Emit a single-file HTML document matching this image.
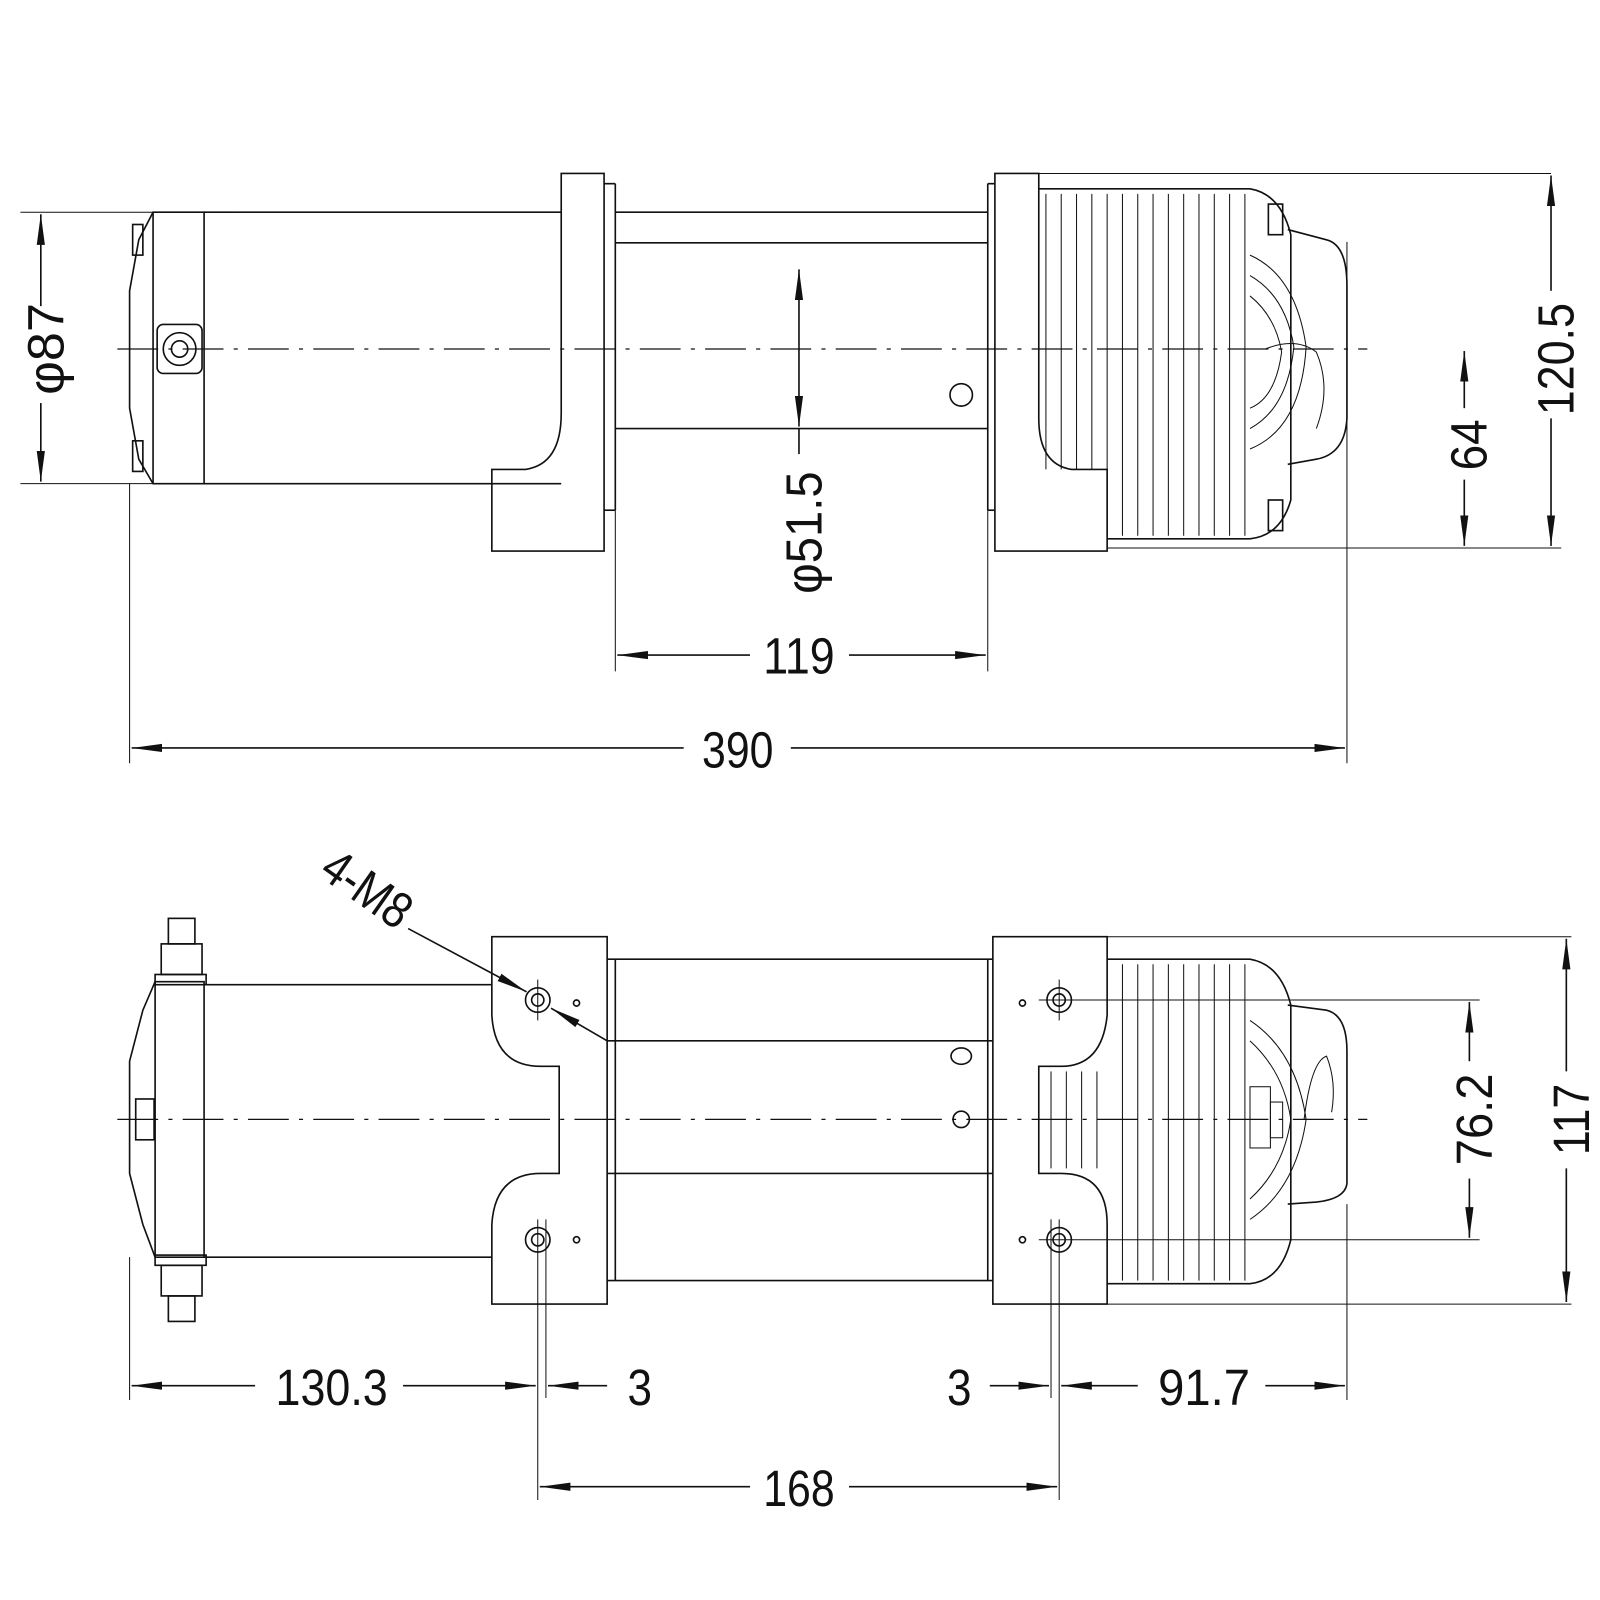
<!DOCTYPE html>
<html><head><meta charset="utf-8"><style>
html,body{margin:0;padding:0;background:#fff;}
svg{display:block;}
text{font-family:"Liberation Sans",sans-serif;font-size:50px;fill:#111;}
</style></head><body>
<svg width="1600" height="1600" viewBox="0 0 1568 1568" xmlns="http://www.w3.org/2000/svg">
<defs>
<marker id="a" markerWidth="30" markerHeight="10" refX="30" refY="5" orient="auto" markerUnits="userSpaceOnUse"><path d="M0,1 L30,5 L0,9 Z" fill="#111"/></marker>
</defs>
<g stroke="#111" stroke-width="1.6" fill="none">
<line x1="115" y1="342" x2="1340" y2="342" stroke-dasharray="40,10,4,10" stroke-width="1.2"/>
<path d="M150,208 L200,208 L200,474 L150,474 L136,450 L127,400 L127,285 L136,235 Z"/>
<line x1="150" y1="208" x2="150" y2="474"/>
<rect x="130" y="220" width="10" height="30"/><rect x="130" y="432" width="10" height="30"/>
<rect x="154" y="318" width="44" height="48" rx="6"/>
<circle cx="176" cy="342" r="16"/><circle cx="176" cy="342" r="8"/>
<line x1="200" y1="208" x2="550" y2="208"/><line x1="200" y1="474" x2="550" y2="474"/>
<line x1="20" y1="208" x2="230" y2="208" stroke-width="1"/><line x1="20" y1="474" x2="230" y2="474" stroke-width="1"/>
<path d="M550,170 L592,170 L592,540 L482,540 L482,460 L515,460 Q550,455 550,405 Z"/>
<line x1="592" y1="180" x2="603" y2="180"/><line x1="603" y1="180" x2="603" y2="500"/><line x1="592" y1="500" x2="603" y2="500"/>
<line x1="603" y1="208" x2="968" y2="208"/><line x1="603" y1="238" x2="968" y2="238"/>
<line x1="603" y1="420" x2="968" y2="420"/>
<circle cx="942" cy="387" r="11"/>
<path d="M975,170 L1018,170 L1018,410 Q1018,455 1050,460 L1085,460 L1085,540 L975,540 Z"/>
<line x1="968" y1="180" x2="975" y2="180"/><line x1="968" y1="180" x2="968" y2="500"/><line x1="968" y1="500" x2="975" y2="500"/>
<line x1="975" y1="170" x2="1520" y2="170" stroke-width="1"/>
<path d="M1018,185 L1225,185 Q1255,190 1265,230 L1265,490 Q1255,525 1225,528 L1085,528"/>
<g stroke-width="1">
<line x1="1025" y1="190" x2="1025" y2="460"/><line x1="1040" y1="190" x2="1040" y2="460"/>
<line x1="1055" y1="190" x2="1055" y2="460"/><line x1="1070" y1="190" x2="1070" y2="460"/>
<line x1="1085" y1="190" x2="1085" y2="525"/><line x1="1100" y1="190" x2="1100" y2="525"/>
<line x1="1115" y1="190" x2="1115" y2="525"/><line x1="1130" y1="190" x2="1130" y2="525"/>
<line x1="1145" y1="190" x2="1145" y2="525"/><line x1="1160" y1="190" x2="1160" y2="525"/>
<line x1="1175" y1="190" x2="1175" y2="525"/><line x1="1190" y1="190" x2="1190" y2="525"/>
<line x1="1205" y1="190" x2="1205" y2="525"/><line x1="1220" y1="190" x2="1220" y2="525"/>
<path d="M1225,250 Q1270,270 1280,340 Q1275,420 1225,440"/>
<path d="M1225,270 Q1260,290 1268,340 Q1262,400 1225,420"/>
<path d="M1225,290 Q1250,310 1256,345 Q1250,390 1225,400"/>
<path d="M1240,342 Q1270,330 1290,345 Q1305,380 1290,420"/>
</g>
<rect x="1243" y="200" width="14" height="30"/><rect x="1243" y="490" width="14" height="30"/>
<path d="M1262,225 L1300,235 Q1320,240 1320,280 L1320,410 Q1318,445 1290,450 L1262,455"/>
<line x1="127" y1="474" x2="127" y2="748" stroke-width="1"/>
<line x1="1320" y1="237" x2="1320" y2="748" stroke-width="1"/>
<line x1="603" y1="500" x2="603" y2="658" stroke-width="1"/>
<line x1="968" y1="500" x2="968" y2="658" stroke-width="1"/>
<line x1="1085" y1="537" x2="1530" y2="537" stroke-width="1"/>
<line x1="40" y1="300" x2="40" y2="210" marker-end="url(#a)"/><line x1="40" y1="395" x2="40" y2="472" marker-end="url(#a)"/>
<line x1="1520" y1="285" x2="1520" y2="172" marker-end="url(#a)"/><line x1="1520" y1="410" x2="1520" y2="535" marker-end="url(#a)"/>
<line x1="1435" y1="400" x2="1435" y2="344" marker-end="url(#a)"/><line x1="1435" y1="470" x2="1435" y2="535" marker-end="url(#a)"/>
<line x1="783" y1="340" x2="783" y2="264" marker-end="url(#a)"/><line x1="783" y1="340" x2="783" y2="418" marker-end="url(#a)"/>
<line x1="783" y1="420" x2="783" y2="445"/>
<line x1="735" y1="642" x2="605" y2="642" marker-end="url(#a)"/><line x1="832" y1="642" x2="966" y2="642" marker-end="url(#a)"/>
<line x1="670" y1="733" x2="129" y2="733" marker-end="url(#a)"/><line x1="775" y1="733" x2="1318" y2="733" marker-end="url(#a)"/>

<line x1="115" y1="1097" x2="1340" y2="1097" stroke-dasharray="40,10,4,10" stroke-width="1.2"/>
<path d="M152,962 L200,962 L200,1232 L152,1232 L140,1200 L127,1150 L127,1040 L140,990 Z"/>
<line x1="152" y1="962" x2="152" y2="1232"/>
<rect x="133" y="1077" width="18" height="40"/>
<rect x="152" y="955" width="50" height="10"/><rect x="152" y="1230" width="50" height="10"/>
<rect x="158" y="925" width="40" height="30"/><rect x="165" y="900" width="26" height="25"/>
<rect x="158" y="1240" width="40" height="30"/><rect x="165" y="1270" width="26" height="25"/>
<line x1="200" y1="965" x2="482" y2="965"/><line x1="200" y1="1232" x2="482" y2="1232"/>
<path d="M482,918 L595,918 L595,1278 L482,1278 L482,1200 Q485,1150 530,1150 L548,1150 L548,1045 L530,1045 Q485,1045 482,995 Z"/>
<line x1="595" y1="940" x2="973" y2="940"/><line x1="595" y1="1020" x2="973" y2="1020"/>
<line x1="595" y1="1150" x2="973" y2="1150"/><line x1="595" y1="1255" x2="973" y2="1255"/>
<line x1="603" y1="940" x2="603" y2="1255"/><line x1="968" y1="940" x2="968" y2="1255"/>
<ellipse cx="942" cy="1035" rx="10" ry="8"/><circle cx="942" cy="1097" r="8"/>
<path d="M973,918 L1085,918 L1085,995 Q1080,1045 1040,1045 L1018,1045 L1018,1150 L1040,1150 Q1085,1150 1085,1200 L1085,1278 L973,1278 Z"/>
<line x1="1085" y1="918" x2="1540" y2="918" stroke-width="1"/>
<line x1="1085" y1="1278" x2="1540" y2="1278" stroke-width="1"/>
<path d="M1085,940 L1225,940 Q1255,945 1265,985 L1265,1215 Q1255,1255 1225,1258 L1085,1258"/>
<g stroke-width="1">
<line x1="1100" y1="945" x2="1100" y2="1255"/><line x1="1115" y1="945" x2="1115" y2="1255"/>
<line x1="1130" y1="945" x2="1130" y2="1255"/><line x1="1145" y1="945" x2="1145" y2="1255"/>
<line x1="1160" y1="945" x2="1160" y2="1255"/><line x1="1175" y1="945" x2="1175" y2="1255"/>
<line x1="1190" y1="945" x2="1190" y2="1255"/><line x1="1205" y1="945" x2="1205" y2="1255"/>
<line x1="1220" y1="945" x2="1220" y2="1255"/>
<line x1="1030" y1="1050" x2="1030" y2="1145"/><line x1="1045" y1="1050" x2="1045" y2="1145"/>
<line x1="1060" y1="1050" x2="1060" y2="1145"/><line x1="1075" y1="1050" x2="1075" y2="1145"/>
<path d="M1225,1000 Q1270,1030 1280,1097 Q1270,1165 1225,1195"/>
<path d="M1225,1020 Q1258,1050 1265,1097 Q1258,1145 1225,1175"/>
<rect x="1225" y="1065" width="20" height="60"/><rect x="1245" y="1080" width="12" height="35"/>
<path d="M1278,1097 Q1285,1040 1300,1035 Q1310,1060 1305,1090"/>
</g>
<path d="M1262,985 L1300,990 Q1320,995 1320,1030 L1320,1160 Q1318,1175 1290,1178 L1262,1180"/>
<circle cx="527" cy="980" r="12"/><circle cx="527" cy="980" r="6"/>
<circle cx="527" cy="1215" r="12"/><circle cx="527" cy="1215" r="6"/>
<circle cx="1038" cy="980" r="12"/><circle cx="1038" cy="980" r="6"/>
<circle cx="1038" cy="1215" r="12"/><circle cx="1038" cy="1215" r="6"/>
<circle cx="565" cy="983" r="3"/><circle cx="565" cy="1215" r="3"/>
<circle cx="1002" cy="983" r="3"/><circle cx="1002" cy="1215" r="3"/>
<g stroke-width="1">
<line x1="527" y1="960" x2="527" y2="1000"/>
<line x1="1038" y1="960" x2="1038" y2="1000"/>
<line x1="1018" y1="980" x2="1450" y2="980"/>
<line x1="1018" y1="1215" x2="1450" y2="1215"/>
<line x1="527" y1="1195" x2="527" y2="1470"/><line x1="535" y1="1195" x2="535" y2="1370"/>
<line x1="1038" y1="1195" x2="1038" y2="1470"/><line x1="1030" y1="1195" x2="1030" y2="1370"/>
<line x1="127" y1="1232" x2="127" y2="1372"/><line x1="1320" y1="1180" x2="1320" y2="1372"/>
</g>
<line x1="400" y1="910" x2="516" y2="972" marker-end="url(#a)"/>
<line x1="595" y1="1020" x2="540" y2="988" marker-end="url(#a)"/>
<line x1="1535" y1="1050" x2="1535" y2="920" marker-end="url(#a)"/><line x1="1535" y1="1145" x2="1535" y2="1276" marker-end="url(#a)"/>
<line x1="1440" y1="1040" x2="1440" y2="982" marker-end="url(#a)"/><line x1="1440" y1="1155" x2="1440" y2="1213" marker-end="url(#a)"/>
<line x1="250" y1="1358" x2="129" y2="1358" marker-end="url(#a)"/><line x1="395" y1="1358" x2="525" y2="1358" marker-end="url(#a)"/>
<line x1="595" y1="1358" x2="537" y2="1358" marker-end="url(#a)"/>
<line x1="970" y1="1358" x2="1028" y2="1358" marker-end="url(#a)"/>
<line x1="1115" y1="1358" x2="1040" y2="1358" marker-end="url(#a)"/><line x1="1240" y1="1358" x2="1318" y2="1358" marker-end="url(#a)"/>
<line x1="735" y1="1457" x2="529" y2="1457" marker-end="url(#a)"/><line x1="832" y1="1457" x2="1036" y2="1457" marker-end="url(#a)"/>
</g>
<text transform="translate(62,342) rotate(-90)" text-anchor="middle" textLength="90" lengthAdjust="spacingAndGlyphs">φ87</text>
<text transform="translate(1542,352) rotate(-90)" text-anchor="middle" textLength="110" lengthAdjust="spacingAndGlyphs">120.5</text>
<text transform="translate(1457,436) rotate(-90)" text-anchor="middle" textLength="50" lengthAdjust="spacingAndGlyphs">64</text>
<text transform="translate(805,522) rotate(-90)" text-anchor="middle" textLength="120" lengthAdjust="spacingAndGlyphs">φ51.5</text>
<text x="783" y="660" text-anchor="middle" textLength="70" lengthAdjust="spacingAndGlyphs">119</text>
<text x="723" y="752" text-anchor="middle" textLength="70" lengthAdjust="spacingAndGlyphs">390</text>
<text transform="translate(350,885) rotate(35)" text-anchor="middle" textLength="95" lengthAdjust="spacingAndGlyphs">4-M8</text>
<text transform="translate(1557,1097) rotate(-90)" text-anchor="middle" textLength="70" lengthAdjust="spacingAndGlyphs">117</text>
<text transform="translate(1462,1097) rotate(-90)" text-anchor="middle" textLength="90" lengthAdjust="spacingAndGlyphs">76.2</text>
<text x="325" y="1377" text-anchor="middle" textLength="110" lengthAdjust="spacingAndGlyphs">130.3</text>
<text x="627" y="1377" text-anchor="middle" textLength="24" lengthAdjust="spacingAndGlyphs">3</text>
<text x="940" y="1377" text-anchor="middle" textLength="24" lengthAdjust="spacingAndGlyphs">3</text>
<text x="1180" y="1377" text-anchor="middle" textLength="90" lengthAdjust="spacingAndGlyphs">91.7</text>
<text x="783" y="1476" text-anchor="middle" textLength="70" lengthAdjust="spacingAndGlyphs">168</text>
</svg>
</body></html>
